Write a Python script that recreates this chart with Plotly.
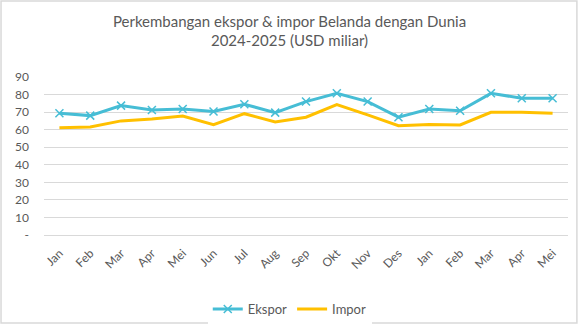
import plotly.graph_objects as go

# Monthly trade of the Netherlands with the world, USD billion
months = ["Jan", "Feb", "Mar", "Apr", "Mei", "Jun", "Jul", "Aug", "Sep", "Okt",
          "Nov", "Des", "Jan", "Feb", "Mar", "Apr", "Mei"]
ekspor = [69.3, 68.0, 73.7, 71.2, 71.8, 70.3, 74.5, 69.7, 76.0, 80.7,
          76.0, 67.1, 71.8, 70.8, 80.7, 77.9, 77.9]
impor = [61.1, 61.5, 65.0, 66.1, 67.8, 62.9, 69.1, 64.4, 67.1, 74.3,
         68.4, 62.3, 63.0, 62.7, 69.9, 69.9, 69.3]
y_ticks = [0, 10, 20, 30, 40, 50, 60, 70, 80, 90]
y_tick_text = ["-", "10", "20", "30", "40", "50", "60", "70", "80", "90"]

x_idx = list(range(len(months)))
text_color = "#595959"
font_family = "Lato, Open Sans, sans-serif"

fig = go.Figure()
fig.add_trace(go.Scatter(
    x=x_idx, y=ekspor, name="Ekspor", mode="lines+markers",
    line=dict(color="#46BDD5", width=3),
    marker=dict(symbol="x-thin", size=8, color="#46BDD5",
                line=dict(color="#46BDD5", width=1.5)),
))
fig.add_trace(go.Scatter(
    x=x_idx, y=impor, name="Impor", mode="lines",
    line=dict(color="#FFC000", width=3),
))

fig.update_layout(
    width=579, height=325,
    margin=dict(l=44, r=11, t=77, b=90, autoexpand=False),
    paper_bgcolor="white", plot_bgcolor="white",
    font=dict(family=font_family, color=text_color, size=12),
    title=dict(
        text="Perkembangan ekspor & impor Belanda dengan Dunia<br>2024-2025 (USD miliar)",
        x=0.5, xanchor="center", y=0.917, yanchor="top",
        font=dict(size=15, color=text_color, family=font_family),
    ),
    showlegend=True,
    legend=dict(orientation="h", x=0.469, xanchor="center",
                y=0.049, yref="container", yanchor="middle",
                font=dict(size=13, color=text_color),
                itemwidth=30, tracegroupgap=0),
    xaxis=dict(
        range=[-0.5, len(months) - 0.5],
        tickmode="array", tickvals=x_idx, ticktext=months,
        tickangle=-45, showgrid=False, zeroline=False, showline=False,
        ticks="", ticklabelstandoff=8, tickfont=dict(size=12, color=text_color),
    ),
    yaxis=dict(
        range=[0, 90], tickmode="array", tickvals=y_ticks, ticktext=y_tick_text,
        showgrid=True, gridcolor="#D9D9D9", gridwidth=1,
        zeroline=True, zerolinecolor="#D9D9D9", zerolinewidth=1,
        showline=False, ticks="", ticklabelstandoff=14,
        tickfont=dict(size=12, color=text_color),
    ),
    shapes=[dict(
        type="rect", xref="paper", yref="paper",
        x0=-0.082, x1=1.017, y0=-0.557, y1=1.481,
        line=dict(color="#D9D9D9", width=1.5), fillcolor="rgba(0,0,0,0)",
        layer="below",
    )],
)

fig.write_html("out.html")
